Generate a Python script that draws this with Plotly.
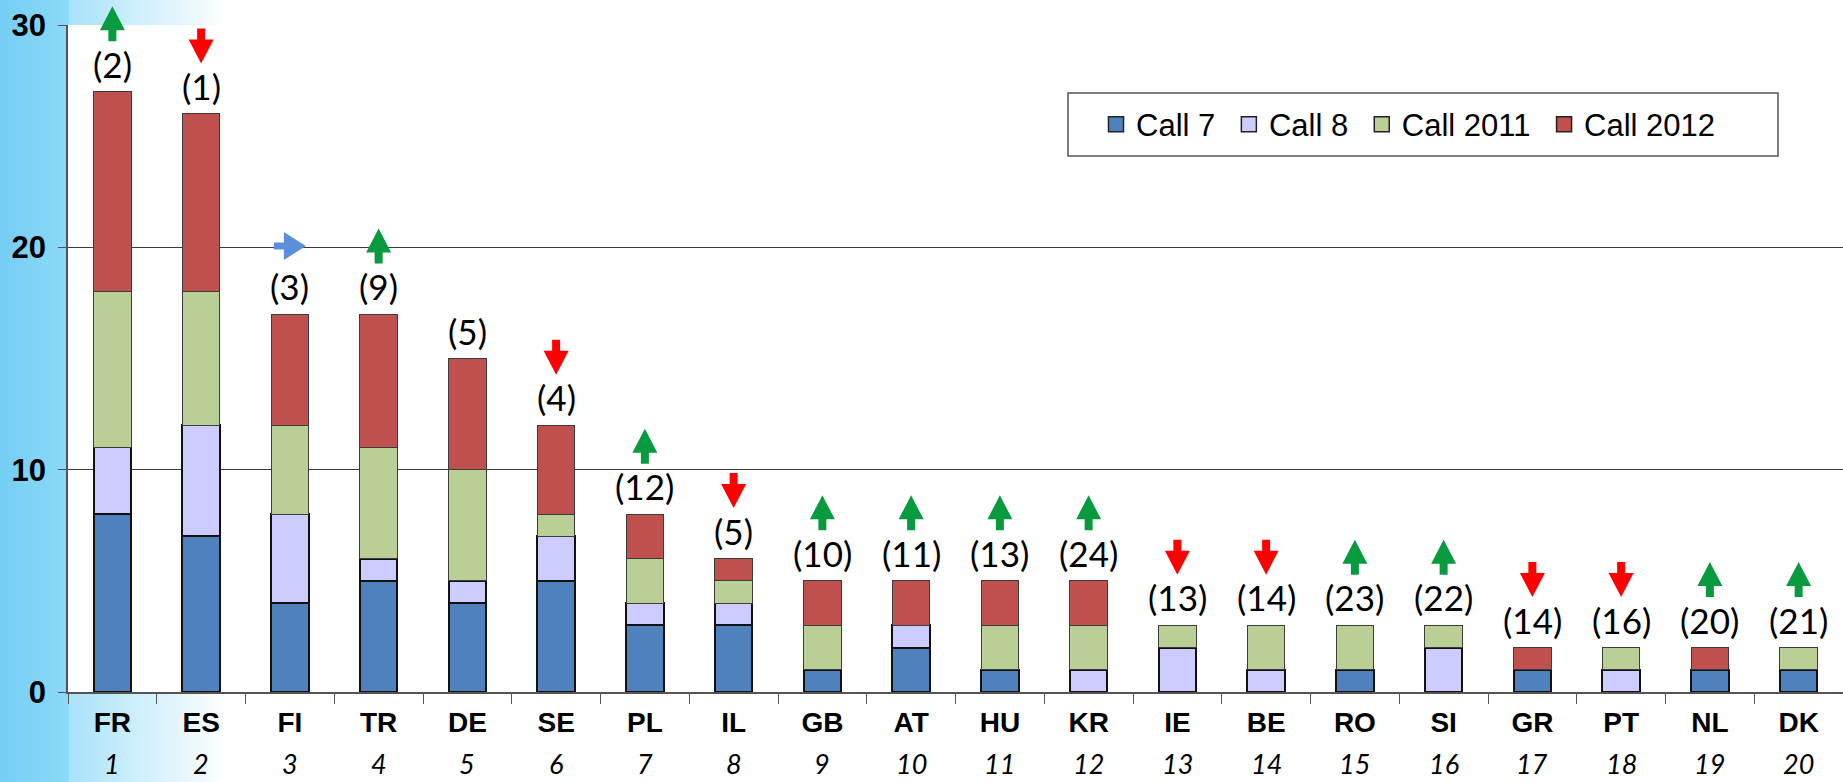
import plotly.graph_objects as go

# ---------------- data ----------------
countries = ["FR", "ES", "FI", "TR", "DE", "SE", "PL", "IL", "GB", "AT",
             "HU", "KR", "IE", "BE", "RO", "SI", "GR", "PT", "NL", "DK"]
positions = [str(i) for i in range(1, 21)]
call7 = [8, 7, 4, 5, 4, 5, 3, 3, 1, 2, 1, 0, 0, 0, 1, 0, 1, 0, 1, 1]
call8 = [3, 5, 4, 1, 1, 2, 1, 1, 0, 1, 0, 1, 2, 1, 0, 2, 0, 1, 0, 0]
call2011 = [7, 6, 4, 5, 5, 1, 2, 1, 2, 0, 2, 2, 1, 2, 2, 1, 0, 1, 0, 1]
call2012 = [9, 8, 5, 6, 5, 4, 2, 1, 2, 2, 2, 2, 0, 0, 0, 0, 1, 0, 1, 0]
prev_rank = ["(2)", "(1)", "(3)", "(9)", "(5)", "(4)", "(12)", "(5)", "(10)", "(11)",
             "(13)", "(24)", "(13)", "(14)", "(23)", "(22)", "(14)", "(16)", "(20)", "(21)"]
trend = ["up", "down", "right", "up", "", "down", "up", "down", "up", "up",
         "up", "up", "down", "down", "up", "up", "down", "down", "up", "up"]

series = [("Call 7", call7, "#4f81bd", "#111111", 2),
          ("Call 8", call8, "#ccccff", "#111111", 2),
          ("Call 2011", call2011, "#bacf96", "#3c3c3c", 1),
          ("Call 2012", call2012, "#c0504d", "#3c3c3c", 1)]

# ---------------- geometry ----------------
W, H = 1843, 782
L, R, T, B = 68, 0, 25, 90
PW = W - L - R
PH = H - T - B
YMAX = 30

def px_x(px):
    return (px - L) / PW

def px_y(py):
    return (H - B - py) / PH

fig = go.Figure()
for name, vals, col, lc, lw in series:
    fig.add_trace(go.Bar(
        x=countries, y=[v if v else None for v in vals], name=name,
        marker=dict(color=col, line=dict(color=lc, width=lw)), showlegend=False,
    ))
# legend entries (square swatches)
for name, vals, col, lc, lw in series:
    fig.add_trace(go.Scatter(
        x=[None], y=[None], mode="markers", name=name + "\u00a0",
        marker=dict(symbol="square", size=15, color=col, line=dict(color="#222222", width=1.5)),
    ))

totals = [a + b + c + d for a, b, c, d in zip(call7, call8, call2011, call2012)]

shapes = []
# left gradient background
c0, c1, c2 = (116, 206, 244), (140, 217, 247), (168, 226, 249)
step = 3
for px0 in range(0, 250, step):
    xm = px0 + step / 2
    if xm < L:
        t = xm / L
        col = tuple(a + (b - a) * t for a, b in zip(c0, c1))
    else:
        t = min(1.0, (xm - L) / (228 - L))
        col = tuple(a + (255 - a) * t for a in c2)
    shapes.append(dict(type="rect", xref="paper", yref="paper",
                       x0=px_x(px0), x1=px_x(px0 + step + 0.5),
                       y0=px_y(H + 2), y1=px_y(-2),
                       fillcolor="rgb(%d,%d,%d)" % tuple(round(v) for v in col),
                       line=dict(width=0), layer="below"))
shapes.append(dict(type="rect", xref="paper", yref="paper", x0=0, x1=1, y0=0, y1=1,
                   fillcolor="white", line=dict(width=0), layer="below"))
# legend frame
shapes.append(dict(type="rect", xref="paper", yref="paper",
                   x0=px_x(1068), x1=px_x(1778), y0=px_y(156), y1=px_y(93),
                   fillcolor="white", line=dict(color="#555555", width=1.5), layer="below"))

# trend arrows
ARROW_OFF = 68
up = [(-4, -17.5), (4, -17.5), (4, -6.5), (12.5, -6.5), (0, 17.5), (-12.5, -6.5), (-4, -6.5)]
right = [(-16, -3.5), (-6, -3.5), (-6, -14), (16, 0), (-6, 14), (-6, 3.5), (-16, 3.5)]
arrow_def = {
    "up": (up, "#079a3f"),
    "down": ([(x, -y) for x, y in up], "#ff0000"),
    "right": (right, "#5b8fd9"),
}
for c, tot, tr in zip(countries, totals, trend):
    if not tr:
        continue
    pts, col = arrow_def[tr]
    path = "M" + " L".join("%g,%g" % (x, y + ARROW_OFF) for x, y in pts) + " Z"
    shapes.append(dict(type="path", xref="x", yref="paper", xsizemode="pixel", ysizemode="pixel",
                       xanchor=c, yanchor=tot / YMAX, path=path,
                       fillcolor=col, line=dict(width=0), layer="above"))

annotations = []
for c, tot, lab in zip(countries, totals, prev_rank):
    annotations.append(dict(x=c, y=tot, xref="x", yref="y", text=lab, showarrow=False,
                            yanchor="middle", yshift=28,
                            font=dict(family="Lato, Carlito, Calibri, sans-serif", size=35, color="black")))
for c, p in zip(countries, positions):
    annotations.append(dict(x=c, y=0, xref="x", yref="paper", text="<i>%s</i>" % p, showarrow=False,
                            yanchor="middle", yshift=-71,
                            font=dict(family="Lato, Carlito, Calibri, sans-serif", size=27, color="black")))

fig.update_layout(
    width=W, height=H,
    margin=dict(l=L, r=R, t=T, b=B, pad=0),
    barmode="stack", bargap=0.58,
    paper_bgcolor="white", plot_bgcolor="white",
    shapes=shapes, annotations=annotations,
    showlegend=True,
    legend=dict(orientation="h", x=px_x(1096), y=px_y(124.5), xanchor="left", yanchor="middle",
                bgcolor="rgba(0,0,0,0)", borderwidth=0,
                font=dict(family="Liberation Sans, Arial", size=31, color="black"),
                traceorder="normal", itemclick=False, itemdoubleclick=False),
    xaxis=dict(type="category", range=[-0.5, 19.5], showgrid=False, showline=True,
               linecolor="#555555", linewidth=1.5, ticks="outside", tickson="boundaries",
               ticklen=10, tickcolor="#555555", tickwidth=1.3,
               tickfont=dict(family="Liberation Sans, Arial", size=28, color="black"),
               ticktext=["<b>%s</b>" % c for c in countries], tickvals=countries,
               ticklabelstandoff=5),
    yaxis=dict(range=[0, YMAX], tickvals=[0, 10, 20, 30], showgrid=True, gridcolor="#3a3a3a",
               gridwidth=1.3, zeroline=False, showline=True, linecolor="#555555", linewidth=1.5,
               ticks="outside", ticklen=8, tickcolor="#555555", tickwidth=1.3,
               tickfont=dict(family="Liberation Sans, Arial", size=31, color="black"),
               ticktext=["<b>%d</b>" % v for v in [0, 10, 20, 30]],
               ticklabelstandoff=6),
)

fig.write_html("out.html", config={"displayModeBar": False},
               post_script="document.body.style.margin='0';")
